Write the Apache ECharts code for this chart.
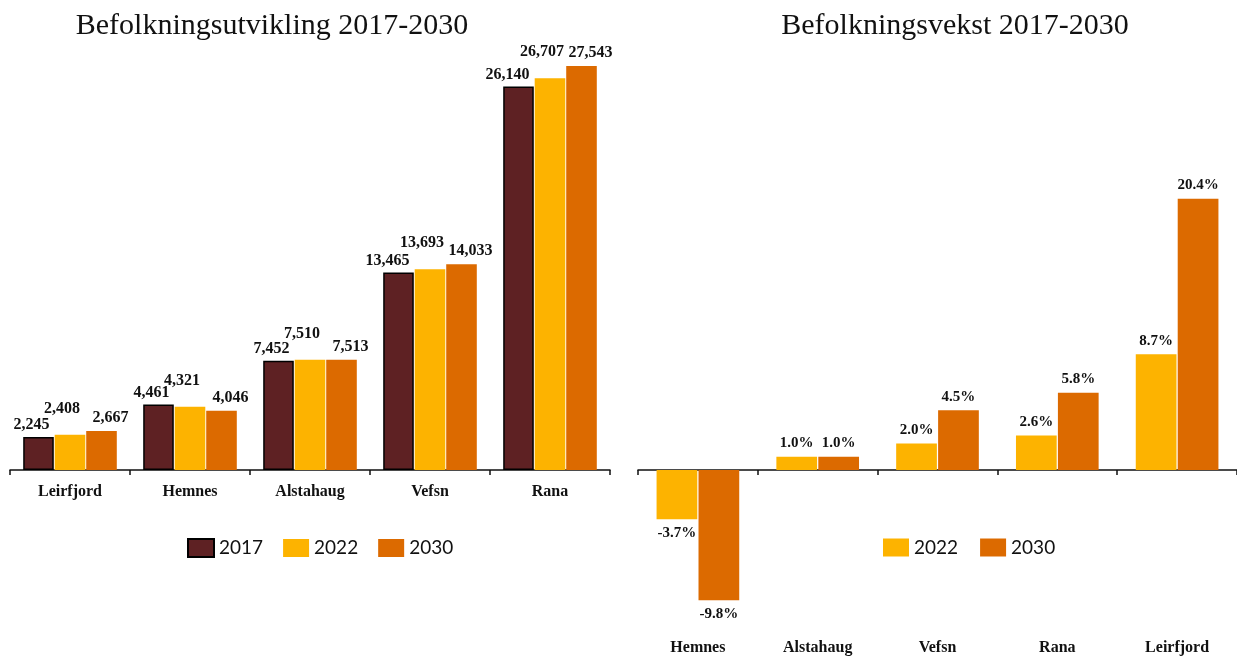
<!DOCTYPE html>
<html>
<head>
<meta charset="utf-8">
<script src="https://cdn.jsdelivr.net/npm/echarts@6/dist/echarts.min.js"></script>
<style>html,body{margin:0;padding:0;background:#fff}#c{width:1237px;height:657px}</style>
</head>
<body>
<div id="c"></div>
<script>
const leftCategories = ['Leirfjord', 'Hemnes', 'Alstahaug', 'Vefsn', 'Rana'];
const pop2017 = [2245, 4461, 7452, 13465, 26140];
const pop2022 = [2408, 4321, 7510, 13693, 26707];
const pop2030 = [2667, 4046, 7513, 14033, 27543];

const rightCategories = ['Hemnes', 'Alstahaug', 'Vefsn', 'Rana', 'Leirfjord'];
const growth2022 = [-3.7, 1.0, 2.0, 2.6, 8.7];
const growth2030 = [-9.8, 1.0, 4.5, 5.8, 20.4];

const C2017 = '#5e2123', C2022 = '#fdb300', C2030 = '#dc6a00';
const SERIF = "'Liberation Serif', 'DejaVu Serif', serif";
const fmt = v => v.toLocaleString('en-US');
const pct = v => v.toFixed(1) + '%';

const labelBase = {show: true, fontFamily: SERIF, fontWeight: 'bold', fontSize: 16, color: '#111'};
const rLabel = {show: true, fontFamily: SERIF, fontWeight: 'bold', fontSize: 15, color: '#111', distance: 6,
  formatter: p => pct(p.value),
  position: 'top'};

const chart = echarts.init(document.getElementById('c'), null, {renderer: 'canvas'});
chart.setOption({
  animation: false,
  backgroundColor: '#fff',
  title: [
    {text: 'Befolkningsutvikling 2017-2030', left: 267, textAlign: 'center', top: 6,
     textStyle: {fontFamily: SERIF, fontWeight: 'normal', fontSize: 30, color: '#111'}},
    {text: 'Befolkningsvekst 2017-2030', left: 950, textAlign: 'center', top: 6,
     textStyle: {fontFamily: SERIF, fontWeight: 'normal', fontSize: 30, color: '#111'}}
  ],
  legend: [
    {data: ['2017', '2022', '2030'], left: 182, top: 533, icon: 'rect', itemWidth: 26, itemHeight: 18, itemGap: 20,
     textStyle: {fontFamily: 'Lato, sans-serif', fontSize: 19, color: '#111'}},
    {data: ['2022', '2030'], left: 878, top: 533, icon: 'rect', itemWidth: 26, itemHeight: 18, itemGap: 22,
     textStyle: {fontFamily: 'Lato, sans-serif', fontSize: 19, color: '#111'}}
  ],
  grid: [
    {left: 10, width: 600, top: 30, bottom: 187},
    {left: 638, right: 0, top: 190.7, bottom: 54}
  ],
  xAxis: [
    {type: 'category', gridIndex: 0, data: leftCategories,
     axisLine: {lineStyle: {color: '#111', width: 1.5}},
     axisTick: {show: true, length: 5, lineStyle: {color: '#111', width: 1.5}},
     axisLabel: {margin: 14, fontFamily: SERIF, fontWeight: 'bold', fontSize: 16, color: '#111'}},
    {type: 'category', gridIndex: 1, data: rightCategories,
     axisLine: {onZero: true, lineStyle: {color: '#111', width: 1.5}},
     axisTick: {show: true, length: 5, lineStyle: {color: '#111', width: 1.5}},
     axisLabel: {show: false}},
    {type: 'category', gridIndex: 1, data: rightCategories, position: 'bottom',
     axisLine: {show: false, onZero: false}, axisTick: {show: false},
     axisLabel: {margin: 37, fontFamily: SERIF, fontWeight: 'bold', fontSize: 16, color: '#111'}}
  ],
  yAxis: [
    {type: 'value', gridIndex: 0, min: 0, max: 30000, show: false, splitLine: {show: false}},
    {type: 'value', gridIndex: 1, min: -10, max: 21, show: false, splitLine: {show: false}}
  ],
  series: [
    {name: '2017', type: 'bar', xAxisIndex: 0, yAxisIndex: 0, data: pop2017,
     barCategoryGap: '22%', barGap: '3%',
     itemStyle: {color: C2017, borderColor: '#000', borderWidth: 1.5},
     label: Object.assign({}, labelBase, {position: 'top', distance: 4, align: 'right', offset: [11, 0], formatter: p => fmt(p.value)})},
    {name: '2022', type: 'bar', xAxisIndex: 0, yAxisIndex: 0, data: pop2022,
     barCategoryGap: '22%', barGap: '3%',
     itemStyle: {color: C2022},
     label: Object.assign({}, labelBase, {position: 'top', distance: 4, offset: [-8, -14], formatter: p => fmt(p.value)})},
    {name: '2030', type: 'bar', xAxisIndex: 0, yAxisIndex: 0, data: pop2030,
     barCategoryGap: '22%', barGap: '3%',
     itemStyle: {color: C2030},
     label: Object.assign({}, labelBase, {position: 'top', distance: 4, offset: [9, -1], formatter: p => fmt(p.value)})},
    {name: '2022', type: 'bar', xAxisIndex: 1, yAxisIndex: 1, data: growth2022.map(v => ({value: v, label: {position: v < 0 ? 'bottom' : 'top'}})),
     barCategoryGap: '31%', barGap: '3%',
     itemStyle: {color: C2022}, label: rLabel},
    {name: '2030', type: 'bar', xAxisIndex: 1, yAxisIndex: 1, data: growth2030.map(v => ({value: v, label: {position: v < 0 ? 'bottom' : 'top'}})),
     barCategoryGap: '31%', barGap: '3%',
     itemStyle: {color: C2030}, label: rLabel}
  ]
});
</script>
</body>
</html>
